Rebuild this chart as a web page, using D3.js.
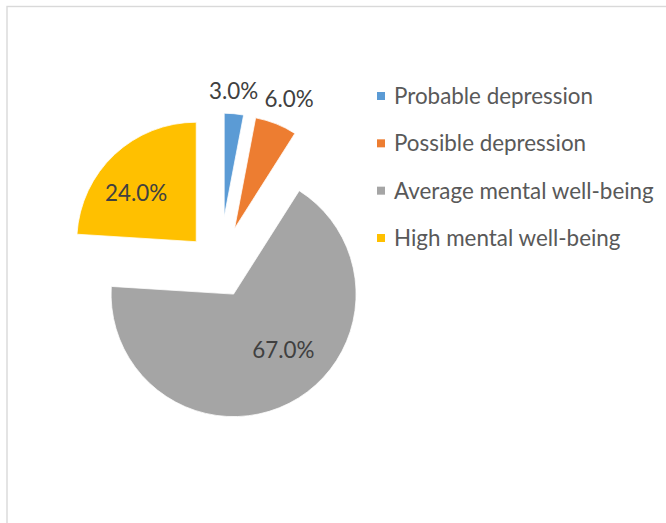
<!DOCTYPE html>
<html>
<head>
<meta charset="utf-8">
<script src="https://cdn.jsdelivr.net/npm/d3@7/dist/d3.min.js"></script>
<style>
  html, body { margin: 0; padding: 0; background: #fff; }
  svg { display: block; }
</style>
</head>
<body>
<svg id="chart" width="666" height="523"></svg>
<script>
// Mental well-being categories and their shares (%)
const categories = ["Probable depression", "Possible depression", "Average mental well-being", "High mental well-being"];
const shares = [3.0, 6.0, 67.0, 24.0];
const colors = ["#5B9BD5", "#ED7D31", "#A5A5A5", "#FFC000"];

// Exploded-pie styling: each slice is pushed out from the centre and shrunk so
// that all slices stay inside the same outer reach.
const centre = { x: 219.5, y: 266.5 };
const outerReach = 153.5;
const explode = [50, 41, 31, 34];
// Data-label placement relative to each slice's tip: angle tweak (deg) and distance
const labelAngleShift = [-1.1, 1.3, -14.5, -8.1];
const labelDistance = [126, 140, 75, 77];

const FONT = "Lato, 'Open Sans', sans-serif";
const FONT_SIZE = 22.4;

const svg = d3.select("#chart");

// Chart area border (runs past the right and bottom edges)
svg.append("rect")
  .attr("x", 7).attr("y", 6.5)
  .attr("width", 700).attr("height", 600)
  .attr("fill", "#fff")
  .attr("stroke", "#d9d9d9")
  .attr("stroke-width", 1.4);

const rows = categories.map((c, i) => ({ name: c, value: shares[i], i }));

const pie = d3.pie().sort(null).value(d => d.value).startAngle(0).endAngle(2 * Math.PI);
const arcs = pie(rows);

const gPie = svg.append("g");

arcs.forEach(a => {
  const i = a.data.i;
  const mid = (a.startAngle + a.endAngle) / 2;
  const tx = centre.x + explode[i] * Math.sin(mid);
  const ty = centre.y - explode[i] * Math.cos(mid);
  const r = outerReach - explode[i];
  const arc = d3.arc().innerRadius(0).outerRadius(r);

  const g = gPie.append("g").attr("transform", `translate(${tx},${ty})`);
  g.append("path")
    .attr("d", arc(a))
    .attr("fill", colors[i])
    .attr("stroke", "#fff")
    .attr("stroke-width", 0.75);

  const la = mid + labelAngleShift[i] * Math.PI / 180;
  g.append("text")
    .attr("x", labelDistance[i] * Math.sin(la))
    .attr("y", -labelDistance[i] * Math.cos(la))
    .attr("dy", "0.35em")
    .attr("text-anchor", "middle")
    .attr("font-family", FONT)
    .attr("font-size", FONT_SIZE)
    .attr("fill", "#404040")
    .text(d3.format(".1f")(a.data.value) + "%");
});

// Legend
const legendY = d3.scalePoint().domain(categories).range([96, 238]);
const legend = svg.append("g");
categories.forEach((c, i) => {
  const y = legendY(c);
  legend.append("rect")
    .attr("x", 377).attr("y", y - 4)
    .attr("width", 8).attr("height", 8)
    .attr("fill", colors[i]);
  legend.append("text")
    .attr("x", 394).attr("y", y)
    .attr("dy", "0.35em")
    .attr("font-family", FONT)
    .attr("font-size", FONT_SIZE)
    .attr("fill", "#595959")
    .text(c);
});
</script>
</body>
</html>
